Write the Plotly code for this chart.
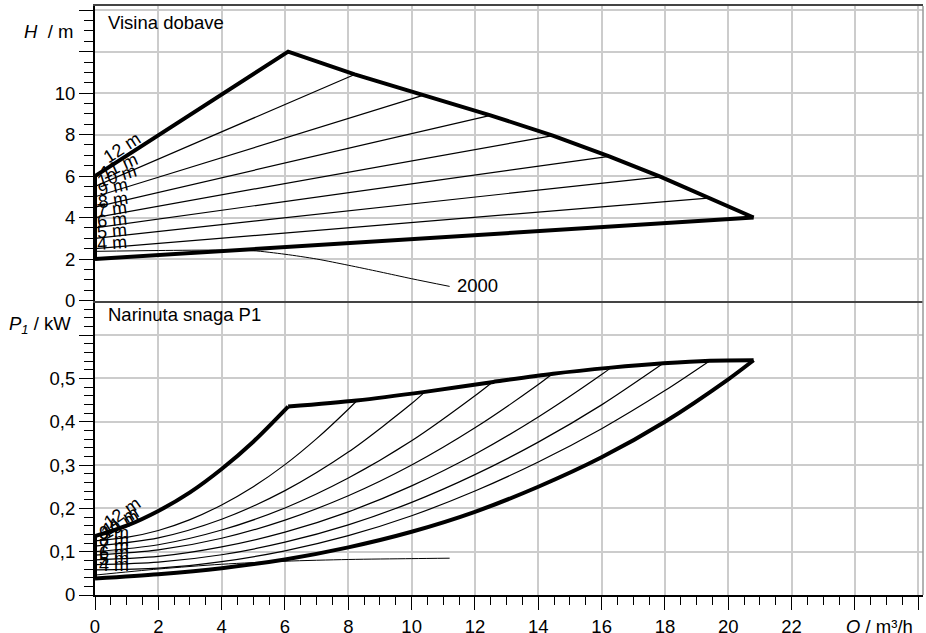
import plotly.graph_objects as go

# ---------------- data ----------------
# Top panel: delivery head H [m] vs flow Q [m3/h]
Q_MAX_H = [0, 6.1, 8.2, 10.38, 12.49, 14.46, 16.24, 17.87, 19.36, 20.8]
H_MAX = [6.0, 12.0, 10.9, 9.9, 8.93, 7.95, 6.95, 5.96, 4.94, 4.0]
Q_MIN_H = [0, 20.8]
H_MIN = [2.0, 4.0]

SET_HEADS = [11, 10, 9, 8, 7, 6, 5]
H_LINE_START = [5.5, 5.0, 4.5, 4.0, 3.5, 3.0, 2.5]
H_LINE_END_Q = [8.2, 10.38, 12.49, 14.46, 16.24, 17.87, 19.36]
H_LINE_END_H = [10.9, 9.9, 8.93, 7.95, 6.95, 5.96, 4.94]

Q_2000_H = [0, 2, 4, 5, 6, 7, 8, 9, 10, 11.2]
H_2000 = [2.37, 2.41, 2.43, 2.40, 2.23, 2.00, 1.70, 1.38, 1.05, 0.68]

# Bottom panel: input power P1 [kW] vs Q
Q_MAX_P_RISE = [0, 1, 2, 3, 4, 5, 6.1]
P_MAX_RISE = [0.136, 0.160, 0.194, 0.237, 0.291, 0.354, 0.435]
Q_MAX_P_TOP = [6.1, 8.26, 10.42, 12.58, 14.47, 16.3, 17.95, 19.42, 20.8]
P_MAX_TOP = [0.435, 0.449, 0.469, 0.492, 0.511, 0.525, 0.535, 0.541, 0.542]
Q_MIN_P = [0, 2, 4, 6, 8, 10, 12, 14, 16, 18, 20, 20.8]
P_MIN = [0.038, 0.048, 0.062, 0.082, 0.110, 0.146, 0.192, 0.250, 0.318, 0.400, 0.498, 0.542]

Q_P_11 = [0, 1, 2, 3, 4, 5, 6, 7, 8, 8.26]
P_11 = [0.125, 0.133, 0.149, 0.174, 0.208, 0.250, 0.301, 0.361, 0.429, 0.448]
Q_P_10 = [0, 2, 4, 6, 8, 10, 10.42]
P_10 = [0.113, 0.132, 0.175, 0.241, 0.330, 0.442, 0.469]
Q_P_9 = [0, 2, 4, 6, 8, 10, 12, 12.58]
P_9 = [0.100, 0.116, 0.150, 0.201, 0.270, 0.356, 0.460, 0.493]
Q_P_8 = [0, 2, 4, 6, 8, 10, 12, 14, 14.47]
P_8 = [0.092, 0.104, 0.131, 0.173, 0.229, 0.300, 0.386, 0.486, 0.512]
Q_P_7 = [0, 2, 4, 6, 8, 10, 12, 14, 16, 16.3]
P_7 = [0.081, 0.089, 0.111, 0.145, 0.192, 0.252, 0.325, 0.411, 0.509, 0.525]
Q_P_6 = [0, 2, 4, 6, 8, 10, 12, 14, 16, 17.95]
P_6 = [0.070, 0.076, 0.093, 0.122, 0.162, 0.214, 0.278, 0.353, 0.439, 0.535]
Q_P_5 = [0, 2, 4, 6, 8, 10, 12, 14, 16, 18, 19.42]
P_5 = [0.058, 0.062, 0.077, 0.102, 0.137, 0.183, 0.240, 0.307, 0.384, 0.472, 0.541]

Q_2000_P = [0, 2, 4, 6, 8, 10, 11.2]
P_2000 = [0.046, 0.060, 0.071, 0.078, 0.082, 0.084, 0.085]

X_TICKS = [0, 2, 4, 6, 8, 10, 12, 14, 16, 18, 20, 22, 24, 26]
X_TICK_TEXT = ["0", "2", "4", "6", "8", "10", "12", "14", "16", "18", "20", "22", " ", " "]
H_TICKS = [0, 2, 4, 6, 8, 10, 12, 14]
H_TICK_TEXT = ["0", "2", "4", "6", "8", "10", " ", " "]
P_TICKS = [0, 0.1, 0.2, 0.3, 0.4, 0.5, 0.6]
P_TICK_TEXT = ["0", "0,1", "0,2", "0,3", "0,4", "0,5", " "]

H_LABELS = ["12 m", "11 m", "10 m", "9 m", "8 m", "7 m", "6 m", "5 m", "4 m"]
P_LABELS = ["12 m", "11 m", "10 m", "9 m", "8 m", "7 m", "6 m", "5 m", "4 m"]

# ---------------- figure ----------------
FONT = "Liberation Sans, Arial, sans-serif"
THICK = 4
THIN = 1.2

fig = go.Figure()


def add(x, y, axis, width, shape="linear"):
    xa, ya = ("x2", "y") if axis == "H" else ("x", "y2")
    line = dict(color="black", width=width, shape=shape)
    if shape == "spline":
        line["smoothing"] = 0.8
    fig.add_trace(go.Scatter(x=x, y=y, mode="lines", xaxis=xa, yaxis=ya, line=line,
                             hoverinfo="skip", showlegend=False))


# top panel
for h0, q1, h1 in zip(H_LINE_START, H_LINE_END_Q, H_LINE_END_H):
    add([0, q1], [h0, h1], "H", THIN)
add(Q_2000_H, H_2000, "H", 1.0, "spline")
add(Q_MAX_H, H_MAX, "H", THICK)
add(Q_MIN_H, H_MIN, "H", THICK)
add([0, 0], [H_MIN[0], H_MAX[0]], "H", THICK)

# bottom panel
for qs, ps in [(Q_P_11, P_11), (Q_P_10, P_10), (Q_P_9, P_9), (Q_P_8, P_8),
               (Q_P_7, P_7), (Q_P_6, P_6), (Q_P_5, P_5)]:
    add(qs, ps, "P", THIN, "spline")
add(Q_2000_P, P_2000, "P", 1.0, "spline")
add(Q_MAX_P_RISE, P_MAX_RISE, "P", THICK, "spline")
add(Q_MAX_P_TOP, P_MAX_TOP, "P", THICK, "spline")
add(Q_MIN_P, P_MIN, "P", THICK, "spline")
add([0, 0], [P_MIN[0], P_MAX_RISE[0]], "P", THICK)

FS = 18.5
tickfont = dict(family=FONT, size=FS, color="black")
grid = "#cccccc"

fig.update_layout(
    width=926, height=633,
    margin=dict(l=95, r=3, t=6, b=38),
    paper_bgcolor="white", plot_bgcolor="white",
    showlegend=False,
    xaxis=dict(domain=[0, 1], anchor="y2", range=[0, 26.15], automargin=False,
               tickmode="array", tickvals=X_TICKS, ticktext=X_TICK_TEXT,
               ticks="outside", ticklen=13, tickwidth=1.3, tickcolor="black",
               minor=dict(dtick=0.5, tick0=0, ticks="outside", ticklen=8,
                          tickwidth=1.3, tickcolor="black", showgrid=False),
               showgrid=True, gridcolor=grid, gridwidth=1.5,
               showline=True, linecolor="black", linewidth=2,
               tickfont=tickfont, zeroline=False, ticklabelstandoff=1),
    xaxis2=dict(domain=[0, 1], anchor="y", range=[0, 26.15], matches="x", automargin=False,
                tickmode="array", tickvals=X_TICKS, showticklabels=False,
                ticks="", showgrid=True, gridcolor=grid, gridwidth=1.5,
                showline=True, linecolor="#444444", linewidth=2, mirror=True,
                zeroline=False),
    yaxis=dict(domain=[0.5, 1], anchor="x2", range=[0, 14.2], automargin=False,
               tickmode="array", tickvals=H_TICKS, ticktext=H_TICK_TEXT,
               ticks="outside", ticklen=14, tickwidth=1.3, tickcolor="black",
               minor=dict(dtick=0.5, tick0=0, ticks="outside", ticklen=9,
                          tickwidth=1.3, tickcolor="black", showgrid=False),
               showgrid=True, gridcolor=grid, gridwidth=1.5,
               showline=True, linecolor="black", linewidth=2,
               tickfont=tickfont, zeroline=False),
    yaxis2=dict(domain=[0, 0.5], anchor="x", range=[0, 0.68], automargin=False,
                tickmode="array", tickvals=P_TICKS, ticktext=P_TICK_TEXT,
                ticks="outside", ticklen=14, tickwidth=1.3, tickcolor="black",
                minor=dict(dtick=0.02, tick0=0, ticks="outside", ticklen=9,
                           tickwidth=1.3, tickcolor="black", showgrid=False),
                showgrid=True, gridcolor=grid, gridwidth=1.5,
                showline=True, linecolor="black", linewidth=2,
                tickfont=tickfont, zeroline=False),
    shapes=[dict(type="line", xref="paper", yref="paper", x0=1, x1=1, y0=0, y1=1,
                 line=dict(color="#999999", width=1.5))],
)

ann = []
txt = dict(family=FONT, size=FS, color="black")
# titles
ann.append(dict(text="Visina dobave", xref="paper", yref="y", x=0.013, y=13.42,
                xanchor="left", yanchor="middle", showarrow=False, font=txt))
ann.append(dict(text="Narinuta snaga P1", xref="paper", yref="y2", x=0.013, y=0.647,
                xanchor="left", yanchor="middle", showarrow=False, font=txt))
ann.append(dict(text="<i>H</i>  / m", xref="paper", yref="y", x=-0.0245, y=12.98,
                xanchor="right", yanchor="middle", showarrow=False, font=txt))
ann.append(dict(text="<i>P<sub>1</sub></i> / kW", xref="paper", yref="y2", x=-0.027, y=0.624,
                xanchor="right", yanchor="middle", showarrow=False, font=txt))
ann.append(dict(text="<i>Q</i> / m³/h", xref="paper", yref="paper", x=0.99, y=-0.054,
                xanchor="right", yanchor="middle", showarrow=False, font=txt))
ann.append(dict(text="2000", xref="x2", yref="y", x=11.37, y=0.72,
                xanchor="left", yanchor="middle", showarrow=False, font=txt))

# curve labels, top panel
h_pos = [(0.84, 7.36, -33), (0.77, 6.47, -24), (0.70, 5.99, -17), (0.58, 5.46, -12),
         (0.56, 4.87, -9), (0.53, 4.39, -7), (0.53, 3.90, -6), (0.53, 3.34, -5), (0.53, 2.78, -4)]
for t, (x, y, a) in zip(H_LABELS, h_pos):
    ann.append(dict(text=t, xref="x2", yref="y", x=x, y=y, textangle=a,
                    xanchor="center", yanchor="middle", showarrow=False,
                    font=dict(family=FONT, size=18, color="black")))

# curve labels, bottom panel
p_pos = [(0.84, 0.190, -35), (0.80, 0.172, -32), (0.78, 0.162, -30), (0.59, 0.143, 0),
         (0.59, 0.128, 0), (0.59, 0.113, 0), (0.59, 0.098, 0), (0.59, 0.083, 0), (0.59, 0.069, 0)]
for t, (x, y, a) in zip(P_LABELS, p_pos):
    ann.append(dict(text=t, xref="x", yref="y2", x=x, y=y, textangle=a,
                    xanchor="center", yanchor="middle", showarrow=False,
                    font=dict(family=FONT, size=18, color="black")))

fig.update_layout(annotations=ann)
fig.write_html("out.html", config={"displayModeBar": False},
               post_script="document.body.style.margin='0';document.body.style.overflow='hidden';")
